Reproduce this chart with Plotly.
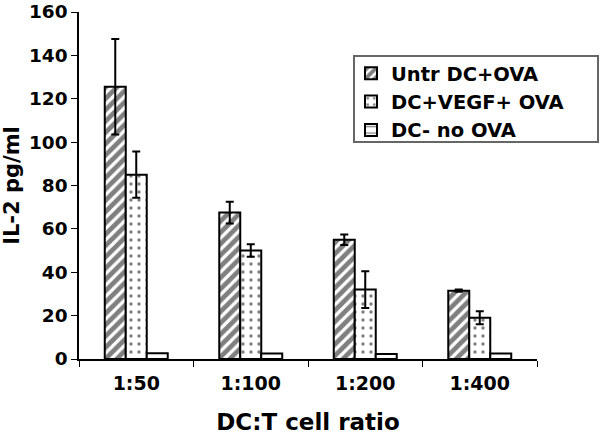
import plotly.graph_objects as go

categories = ["1:50", "1:100", "1:200", "1:400"]
untr_vals = [125.5, 67.5, 55.0, 31.5]
untr_err = [22.0, 5.0, 2.4, 0.5]
vegf_vals = [85.0, 50.0, 32.0, 19.0]
vegf_err = [10.7, 2.9, 8.5, 3.0]
noova_vals = [2.6, 2.5, 2.3, 2.5]
series_names = ["Untr DC+OVA", "DC+VEGF+ OVA", "DC- no OVA"]
y_ticks = [0, 20, 40, 60, 80, 100, 120, 140, 160]

FONT = "DejaVu Sans"

fig = go.Figure()
fig.add_trace(go.Bar(
    x=categories, y=untr_vals, name=series_names[0],
    marker=dict(color="white", line=dict(color="black", width=2),
                pattern=dict(shape="/", fgcolor="black", bgcolor="white", size=8, solidity=0.6)),
    error_y=dict(type="data", array=untr_err, visible=True, color="black", thickness=2, width=4),
))
fig.add_trace(go.Bar(
    x=categories, y=vegf_vals, name=series_names[1],
    marker=dict(color="white", line=dict(color="black", width=2),
                pattern=dict(shape=".", fgcolor="black", bgcolor="white", size=8, solidity=0.14)),
    error_y=dict(type="data", array=vegf_err, visible=True, color="black", thickness=2, width=4),
))
fig.add_trace(go.Bar(
    x=categories, y=noova_vals, name=series_names[2],
    marker=dict(color="white", line=dict(color="black", width=2),
                pattern=dict(shape="-", fgcolor="black", bgcolor="white", size=8, solidity=0.2)),
))

TOP, BOTTOM, LEFT, RIGHT = 12, 359, 79, 537

def px_x(p):
    return (p - LEFT) / (RIGHT - LEFT)

def px_y(p):
    return (BOTTOM - p) / (BOTTOM - TOP)

fig.update_layout(
    width=600, height=435,
    margin=dict(l=LEFT, r=600 - RIGHT, t=TOP, b=435 - BOTTOM, autoexpand=False),
    paper_bgcolor="white", plot_bgcolor="white",
    barmode="group", bargap=0.45, bargroupgap=0,
    font=dict(family=FONT, color="black", weight="bold"),
    showlegend=True,
    legend=dict(x=px_x(351), y=px_y(54), xanchor="left", yanchor="top",
                bgcolor="rgba(0,0,0,0)", borderwidth=0,
                font=dict(family=FONT, size=19.5, weight="bold", color="black"),
                itemwidth=30, tracegroupgap=0),
    xaxis=dict(showline=True, linecolor="black", linewidth=1.5,
               ticks="outside", tickson="boundaries", ticklen=6, tickcolor="black",
               tickfont=dict(family=FONT, size=19, weight="bold"),
               ticklabelstandoff=6,
               title=dict(text="DC:T cell ratio", font=dict(family=FONT, size=23, weight="bold"), standoff=26)),
    yaxis=dict(range=[0, 160], tickmode="array", tickvals=y_ticks, showline=True,
               linecolor="black", linewidth=1.5, ticklabeloverflow="allow",
               ticks="outside", ticklen=6, tickcolor="black", showgrid=False, zeroline=False,
               tickfont=dict(family=FONT, size=18.5, weight="bold"),
               title=dict(text="IL-2 pg/ml", font=dict(family=FONT, size=21, weight="bold"), standoff=10)),
    shapes=[dict(type="rect", xref="paper", yref="paper",
                 x0=px_x(354), x1=px_x(598), y0=px_y(142), y1=px_y(56),
                 fillcolor="white", line=dict(color="#666", width=2), layer="above")],
)

fig.write_html("out.html", config={"displayModeBar": False},
               post_script="document.body.style.margin='0';document.body.style.padding='0';")
